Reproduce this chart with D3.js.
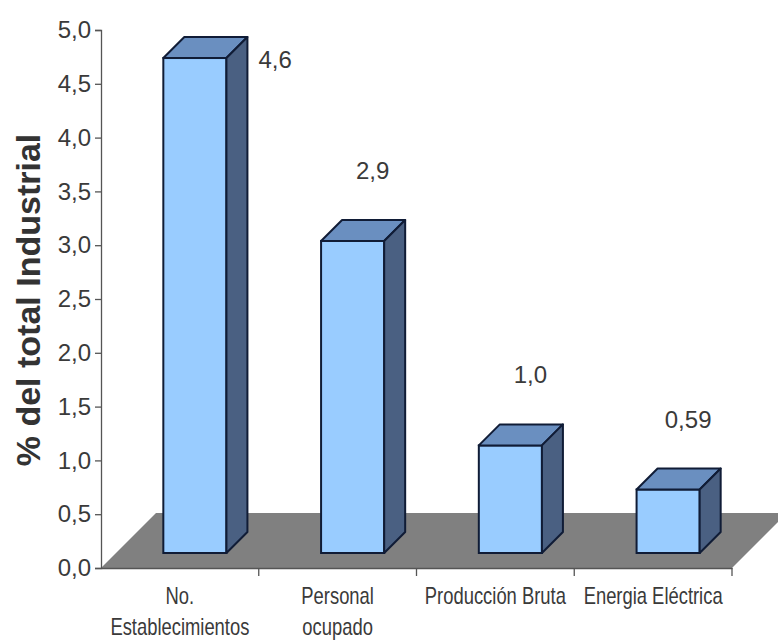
<!DOCTYPE html>
<html>
<head>
<meta charset="utf-8">
<script src="https://d3js.org/d3.v7.min.js"></script>
<style>
  body { margin: 0; background: #fff; }
</style>
</head>
<body>
<div id="my_dataviz"></div>
<script>
// data
var categories = ["No. Establecimientos", "Personal ocupado", "Producción Bruta", "Energia Eléctrica"];
var labelLines = [["No.", "Establecimientos"], ["Personal", "ocupado"], ["Producción Bruta"], ["Energia Eléctrica"]];
var values = [4.6, 2.9, 1.0, 0.59];
var valueLabels = ["4,6", "2,9", "1,0", "0,59"];
var yTicks = [0, 0.5, 1, 1.5, 2, 2.5, 3, 3.5, 4, 4.5, 5];
var yTitle = "% del total Industrial";

// set the dimensions and margins of the graph
// (note: "top" is a reserved window property, so use plot* names)
var width = 778, height = 643;
var plotLeft = 101, plotRight = 732, plotTop = 30, plotBottom = 568;

// 3d look: floor depth, bar offset into the floor, bar depth
var floorDepth = 55, barOffset = 15, barDepth = 21;

var svg = d3.select("#my_dataviz")
  .append("svg")
    .attr("width", width)
    .attr("height", height);

var x = d3.scaleBand()
  .domain(categories)
  .range([plotLeft, plotRight])
  .padding(0);

var y = d3.scaleLinear()
  .domain([0, 5])
  .range([plotBottom, plotTop]);

var fmt = function(d) { return d3.format(".1f")(d).replace(".", ","); };

// grey floor
svg.append("path")
  .attr("d", "M" + plotLeft + "," + y(0) +
             "L" + plotRight + "," + y(0) +
             "L" + (plotRight + floorDepth) + "," + (y(0) - floorDepth) +
             "L" + (plotLeft + floorDepth) + "," + (y(0) - floorDepth) + "Z")
  .attr("fill", "#808080");

// Y axis
var yAxis = svg.append("g")
  .attr("transform", "translate(" + plotLeft + ",0)")
  .call(d3.axisLeft(y).tickValues(yTicks).tickFormat(fmt).tickSize(6).tickPadding(4));
yAxis.select(".domain").attr("stroke", "#555").attr("stroke-width", 1.3);
yAxis.selectAll(".tick line").attr("stroke", "#555").attr("stroke-width", 1.3);
yAxis.selectAll("text")
  .attr("font-family", "Liberation Sans, Arial, sans-serif")
  .attr("font-size", 24)
  .attr("fill", "#3a3a3a");

// X axis
var xAxis = svg.append("g")
  .attr("transform", "translate(0," + y(0) + ")")
  .call(d3.axisBottom(x).tickValues([]).tickSizeOuter(0));
xAxis.select(".domain").attr("stroke", "#555").attr("stroke-width", 1.3);
// ticks between the categories
xAxis.selectAll(".sep")
  .data(categories)
  .enter().append("line")
    .attr("x1", function(d) { return x(d) + x.bandwidth(); })
    .attr("x2", function(d) { return x(d) + x.bandwidth(); })
    .attr("y1", 0)
    .attr("y2", 8)
    .attr("stroke", "#555")
    .attr("stroke-width", 1.3);

// category labels, squeezed sideways to look like a narrow font
var catLabel = svg.append("g").selectAll("text")
  .data(categories)
  .enter().append("text")
    .attr("text-anchor", "middle")
    .attr("font-family", "Liberation Sans, Arial, sans-serif")
    .attr("font-size", 23)
    .attr("fill", "#3a3a3a")
    .attr("transform", function(d) {
      return "translate(" + (x(d) + x.bandwidth() / 2) + "," + (y(0) + 36) + ") scale(0.8,1)";
    });
catLabel.selectAll("tspan")
  .data(function(d, i) { return labelLines[i]; })
  .enter().append("tspan")
    .attr("x", 0)
    .attr("y", function(d, i) { return i * 31; })
    .text(function(d) { return d; });

// Y title
svg.append("text")
  .attr("transform", "translate(40," + ((plotTop + plotBottom) / 2 + 1) + ") rotate(-90)")
  .attr("text-anchor", "middle")
  .attr("font-family", "Liberation Sans, Arial, sans-serif")
  .attr("font-weight", "bold")
  .attr("font-size", 34)
  .attr("fill", "#333")
  .text(yTitle);

// 3d bars
var barW = x.bandwidth() * 0.4;
var bars = svg.append("g").selectAll("g")
  .data(values)
  .enter().append("g");

function x0(i) { return x(categories[i]) + (x.bandwidth() - barW) / 2 + barOffset; }
function yTop(d) { return y(d) - barOffset; }
var yBot = y(0) - barOffset;

// front face
bars.append("rect")
  .attr("x", function(d, i) { return x0(i); })
  .attr("y", function(d) { return yTop(d); })
  .attr("width", barW)
  .attr("height", function(d) { return yBot - yTop(d); })
  .attr("fill", "#99ccff")
  .attr("stroke", "#101c36")
  .attr("stroke-width", 2);

// top face
bars.append("path")
  .attr("d", function(d, i) {
    var a = x0(i), t = yTop(d);
    return "M" + a + "," + t + "L" + (a + barW) + "," + t +
           "L" + (a + barW + barDepth) + "," + (t - barDepth) +
           "L" + (a + barDepth) + "," + (t - barDepth) + "Z";
  })
  .attr("fill", "#6a8fc0")
  .attr("stroke", "#101c36")
  .attr("stroke-width", 2)
  .attr("stroke-linejoin", "round");

// side face
bars.append("path")
  .attr("d", function(d, i) {
    var a = x0(i) + barW, t = yTop(d);
    return "M" + a + "," + t + "L" + (a + barDepth) + "," + (t - barDepth) +
           "L" + (a + barDepth) + "," + (yBot - barDepth) +
           "L" + a + "," + yBot + "Z";
  })
  .attr("fill", "#4a6082")
  .attr("stroke", "#101c36")
  .attr("stroke-width", 2)
  .attr("stroke-linejoin", "round");

// value labels: above the bar, or beside it when there is no room on top
function beside(d) { return yTop(d) - 62 < plotTop; }
bars.append("text")
  .attr("font-family", "Liberation Sans, Arial, sans-serif")
  .attr("font-size", 24)
  .attr("fill", "#3a3a3a")
  .attr("text-anchor", function(d) { return beside(d) ? "start" : "middle"; })
  .attr("x", function(d, i) {
    return beside(d) ? x0(i) + barW + barDepth + 11 : x0(i) + barW / 2 + 20;
  })
  .attr("y", function(d) { return beside(d) ? yTop(d) + 10 : yTop(d) - 62; })
  .text(function(d, i) { return valueLabels[i]; });
</script>
</body>
</html>
